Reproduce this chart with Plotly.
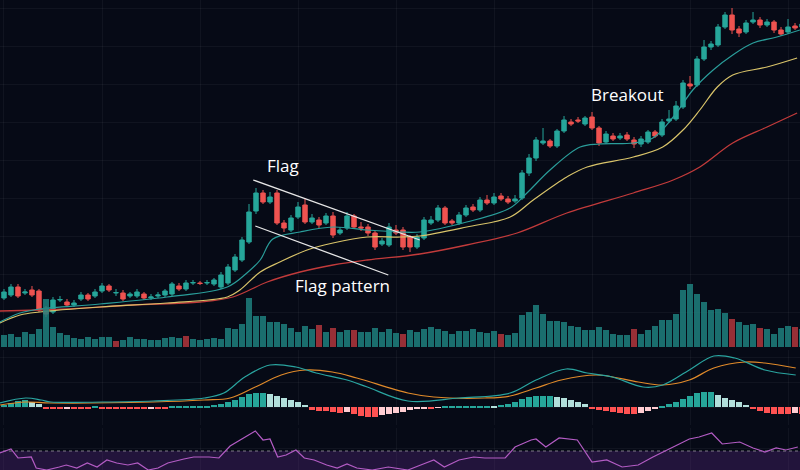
import plotly.graph_objects as go

# candle data (index 0..114)
opens = [52, 55, 63, 57, 60, 59, 42, 38, 50, 48, 45, 51, 55, 54, 59, 64, 57, 57, 54, 54,
         56, 52, 54, 55, 56, 64, 61, 67, 67, 67, 66, 63, 67, 80, 90, 108, 139, 157, 148, 157,
         127, 120, 133, 145, 128, 130, 127, 134, 117, 122, 134, 123, 123, 117, 106, 105, 120, 120, 113, 103,
         112, 127, 130, 142, 129, 127, 135, 143, 140, 150, 147, 154, 151, 149, 152, 177, 192, 207, 209, 204,
         219, 228, 230, 226, 233, 222, 208, 214, 212, 215, 210, 206, 208, 218, 215, 229, 231, 243, 266, 265,
         291, 303, 305, 323, 335, 321, 318, 328, 330, 325, 328, 320, 318, 324, 323]
closes = [58, 63, 54, 58, 55, 40, 36, 50, 50.5, 45, 47, 55, 51, 58, 64, 60, 57.5, 51, 56, 58,
          52, 53, 55, 59, 66, 61, 67, 67.5, 66.5, 67.5, 70, 75, 83, 93, 110, 138, 157, 148, 153, 127,
          122, 132, 143, 128, 132, 125, 134, 115, 120, 134, 123, 122, 117, 103, 109, 123, 117, 103, 103, 113,
          130, 130, 142, 127, 127, 135, 142, 140, 150, 147, 153, 151, 148, 151, 177, 192, 210, 209, 204, 219,
          230, 226, 229, 232, 222, 207, 216, 211, 214, 211, 206, 211, 218, 214, 228, 231, 244, 267, 264, 291,
          303, 306, 323, 335, 320, 317, 327, 330, 325, 328, 320, 316, 323, 322, 326]
highs = [61, 66, 66, 61, 64, 61, 44, 53, 54, 51, 50, 58, 57, 61, 67, 66, 61, 60, 58, 61,
         58, 56, 58, 61, 68, 67, 70, 70, 69, 70, 72, 78, 86, 96, 113, 146, 162, 160, 158, 160,
         130, 135, 148, 152, 136, 133, 137, 138, 123, 138, 136, 128, 126, 119, 112, 127, 125, 123, 115, 116,
         133, 134, 145, 144, 131, 138, 145, 146, 153, 155, 157, 157, 154, 155, 180, 196, 213, 222, 211, 221,
         234, 231, 233, 234, 238, 224, 219, 217, 217, 218, 213, 214, 220, 220, 231, 240, 249, 270, 274, 294,
         310, 309, 326, 338, 342, 324, 330, 338, 333, 331, 330, 323, 331, 327, 330]
lows = [50, 53, 52, 55, 53, 38, 33, 36, 48, 43, 43, 49, 49, 52, 57, 58, 54, 49, 52, 52,
        50, 50, 52, 53, 54, 59, 59, 65, 65, 65, 64, 61, 65, 78, 88, 106, 136, 146, 146, 125,
        118, 118, 131, 126, 126, 122, 125, 112, 115, 120, 121, 119, 114, 100, 104, 103, 115, 100, 98, 101,
        110, 125, 128, 125, 125, 125, 133, 138, 138, 145, 145, 149, 146, 147, 150, 174, 189, 205, 202, 202,
        217, 224, 227, 224, 220, 204, 206, 209, 210, 209, 202, 203, 206, 212, 213, 227, 229, 241, 261, 263,
        289, 300, 303, 321, 316, 313, 316, 326, 322, 323, 317, 314, 316, 320, 321]

volumes = [12, 13, 10, 15, 13, 18, 48, 20, 14, 12, 9, 8, 10, 8, 10, 10, 6, 7, 10, 8,
           8, 7, 7, 9, 10, 9, 11, 8, 7, 8, 9, 8, 19, 18, 23, 49, 31, 31, 25, 25,
           23, 19, 15, 21, 18, 22, 15, 19, 15, 17, 17, 15, 15, 19, 15, 18, 14, 13, 17, 15,
           18, 20, 18, 16, 13, 16, 16, 18, 15, 14, 16, 13, 12, 14, 32, 35, 42, 33, 26, 26,
           25, 21, 20, 17, 17, 20, 17, 13, 12, 12, 18, 13, 17, 21, 27, 27, 33, 57, 63, 53,
           45, 37, 38, 34, 28, 25, 22, 23, 19, 18, 13, 19, 21, 20, 18]
red_volume_days = [16, 26, 45, 47, 50, 57, 71, 90, 104, 108, 113]

# moving averages (bar position, value)
ma_fast_x = [-0.6, 2.3, 5.1, 13.7, 23.3, 31.9, 34.7, 36.6, 38.4, 42.3, 47, 51.9, 56.6, 59.4, 66.1,
             72.3, 74.7, 78, 82.3, 85.1, 89.9, 92.7, 95.6, 98.4, 101.3, 104.1, 107, 110.4, 113.7]
ma_fast = [28, 37, 41, 46, 53, 63, 77, 90, 111, 118, 123, 120, 118, 118, 128,
           142, 157, 180, 203, 206, 207, 212, 233, 260, 280, 295, 307, 313, 320]
ma_mid_x = [-0.6, 2.3, 5.1, 13.7, 23.3, 31.9, 33.7, 36.6, 39.4, 43.3, 47, 51.9, 56.6, 59.4, 66.1,
            72.3, 75.6, 80.4, 83.3, 89.9, 94.1, 97, 99.4, 101.9, 104.1, 109, 113.3]
ma_mid = [27, 35, 38, 43, 47, 53, 60, 78, 88, 100, 107, 113, 113, 114, 123,
          133, 150, 173, 183, 193, 203, 220, 240, 263, 275, 283, 292]
ma_slow_x = [-0.6, 9, 18.4, 28, 32.7, 37.6, 42.3, 47, 51.9, 59.4, 66.1, 73.3, 80.4, 89.9, 95.6,
             99.4, 104.1, 109, 113.3]
ma_slow = [39, 41, 45, 48, 53, 68, 78, 85, 90, 96, 105, 117, 137, 157, 170, 183, 207, 223, 237]

# MACD
macd_x = [-0.6, 3.1, 5.3, 6.7, 14, 21.3, 28.6, 31.4, 34.4, 38, 41.7, 44.6, 49, 51.9, 57.7, 65,
          72.3, 76, 80.3, 83.3, 86.9, 91.3, 94.1, 97.9, 101.4, 104.4, 108.7, 113.1]
macd = [4, 9, 7, 5, 5, 6, 9, 14, 30, 42, 40, 34, 27, 20, 6, 9, 14, 27, 38, 34, 30, 20, 22, 37, 51, 49, 37, 32]
signal_x = [-0.6, 3.1, 6.7, 21.3, 28.6, 32.3, 35.9, 39.6, 43.1, 46.9, 50.4, 57.7, 61.4, 68.7, 72.3,
            76, 79.6, 84.7, 90.6, 94.1, 97.9, 101.4, 105.9, 108.7, 113.1]
signal = [2, 5, 4, 5, 7, 9, 20, 32, 37, 35, 29, 14, 10, 9, 11, 19, 27, 32, 25, 22, 27, 39, 45, 44, 39]
hist = [2, 4, 6, 7, 5, 3,
        -1, -2, -2, -1, -1, -1, -1, 0.5, -1, -1, -1, -1, -2, -2, -2, -1, -1, -1, 0.5,
        1, 1, 1, 1, 1.5, 2, 3,
        5, 7, 10, 13, 14, 14,
        13, 11, 9, 7, 5, 2,
        -3, -4, -4, -5, -6, -5, -7, -9, -10, -10, -8, -7, -6, -5, -3, -2, -1, -1, -0.5,
        1, 1, 1, 1, 1, 1, 1.5, 1, 2, 3,
        5, 8, 10, 11, 11, 11, 10, 9, 7, 5, 3,
        -1, -3, -4, -5, -6, -7, -7, -6, -4, -2,
        1, 3, 5, 8, 11, 14, 15, 15, 12, 9, 7, 5, 2,
        -2, -4, -6, -7, -7, -7, -6, -7]

# RSI
rsi_x = [-0.6, 1, 2, 3.9, 4.6, 6.1, 7.9, 8.9, 10.4, 11.9, 13.3, 14.7, 16.1, 17.7, 19.1, 20.6, 22,
         23.4, 25.7, 27.1, 29.3, 30.7, 32.3, 34.4, 35.9, 37, 38, 39.1, 40.3, 41.7, 42.9, 44.3, 46.1,
         47.6, 49, 50.4, 52.6, 54.9, 57.7, 59.9, 61.4, 62.9, 65, 67.1, 68.7, 71.6, 73, 75.3, 76, 77.4,
         79.3, 81.9, 84, 86.1, 88.3, 90.6, 92.7, 95.6, 97.9, 99.3, 101.1, 102.6, 105.1, 107, 108.7,
         110.3, 111.7, 113.4]
rsi = [17, 21, 12, 13, 2, 0, 3, 5, 2, 7, 3, 10, 7, 5, 7, 0, 2,
       7, 11, 13, 13, 12, 24, 33, 39, 30, 31, 13, 15, 20, 12, 10, 5,
       2, 6, 2, 0, 3, 0, 6, 10, 3, 10, 13, 12, 12, 23, 30, 31, 23,
       32, 30, 8, 10, 3, 5, 13, 23, 31, 33, 37, 26, 28, 22, 18,
       22, 20, 23]
rsi_mid = 19

days = list(range(len(opens)))
teal = '#26a69a'
red = '#ef5350'

vol_colors = ['rgba(200,60,66,0.75)' if i in red_volume_days else 'rgba(31,128,126,0.85)' for i in days]
hist_colors = []
for i, h in enumerate(hist):
    prev = hist[i - 1] if i > 0 else 0
    if h >= 0:
        hist_colors.append(teal if h >= prev else '#b2dfdb')
    else:
        hist_colors.append('#ff5252' if h <= prev else '#ffcdd2')

fig = go.Figure()
fig.add_trace(go.Bar(x=days, y=volumes, marker=dict(color=vol_colors, line_width=0),
                     width=0.78, yaxis='y2'))
fig.add_trace(go.Scatter(x=ma_slow_x, y=ma_slow, mode='lines', line=dict(color='#c23b3b', width=1.3, shape='spline')))
fig.add_trace(go.Scatter(x=ma_mid_x, y=ma_mid, mode='lines', line=dict(color='#d9c46a', width=1.2, shape='spline')))
fig.add_trace(go.Scatter(x=ma_fast_x, y=ma_fast, mode='lines', line=dict(color='#2a9d9a', width=1.2, shape='spline')))
fig.add_trace(go.Candlestick(
    x=days, open=opens, high=highs, low=lows, close=closes,
    increasing=dict(line=dict(color=teal, width=1), fillcolor=teal),
    decreasing=dict(line=dict(color=red, width=1), fillcolor=red),
    whiskerwidth=0))

# MACD panel
fig.add_trace(go.Bar(x=days, y=hist, marker=dict(color=hist_colors, line_width=0), width=0.85, yaxis='y3'))
fig.add_trace(go.Scatter(x=signal_x, y=signal, mode='lines', yaxis='y3',
                         line=dict(color='#e08a2a', width=1.2, shape='spline')))
fig.add_trace(go.Scatter(x=macd_x, y=macd, mode='lines', yaxis='y3',
                         line=dict(color='#2aa5a0', width=1.2, shape='spline')))

# RSI panel
fig.add_trace(go.Scatter(x=[-1, 115], y=[rsi_mid, rsi_mid], mode='lines', yaxis='y4',
                         fill='tozeroy', fillcolor='rgba(90,40,130,0.35)',
                         line=dict(color='rgba(200,200,200,0.6)', width=1, dash='dot')))
fig.add_trace(go.Scatter(x=rsi_x, y=rsi, mode='lines', yaxis='y4',
                         line=dict(color='#b35cc4', width=1.2)))

grid = 'rgba(255,255,255,0.045)'
fig.update_layout(
    width=800, height=470, showlegend=False,
    margin=dict(l=0, r=0, t=0, b=0),
    paper_bgcolor='#060a16', plot_bgcolor='#060a16',
    bargap=0, boxgap=0.1,
    xaxis=dict(range=[-0.57, 113.71], showticklabels=False, gridcolor=grid, dtick=14,
               zeroline=False, rangeslider=dict(visible=False)),
    yaxis=dict(domain=[0.2617, 1], range=[3, 350], showticklabels=False, gridcolor=grid,
               dtick=38, zeroline=False),
    yaxis2=dict(domain=[0.2617, 1], range=[0, 347], overlaying='y', visible=False),
    yaxis3=dict(domain=[0.0957, 0.2553], range=[-18, 57], showticklabels=False, gridcolor=grid,
                dtick=25, zeroline=False, anchor='x', showline=False),
    yaxis4=dict(domain=[0, 0.0894], range=[0, 42], showticklabels=False, gridcolor=grid,
                dtick=21, zeroline=False, anchor='x'),
    annotations=[
        dict(x=39.9, y=185, text='Flag', showarrow=False, font=dict(color='white', size=17, family='Open Sans')),
        dict(x=48.4, y=65, text='Flag pattern', showarrow=False, font=dict(color='white', size=17, family='Open Sans')),
        dict(x=89.1, y=256, text='Breakout', showarrow=False, font=dict(color='white', size=17, family='Open Sans')),
    ],
    shapes=[
        dict(type='line', x0=35.6, y0=170, x1=59.4, y1=110, line=dict(color='#e6e6e6', width=1.3)),
        dict(type='line', x0=35.9, y0=124, x1=54.9, y1=75, line=dict(color='#e6e6e6', width=1.3)),
    ],
)

fig.write_html("out.html", config={'displayModeBar': False},
               post_script="document.body.style.margin='0';document.body.style.background='#060a16';")
